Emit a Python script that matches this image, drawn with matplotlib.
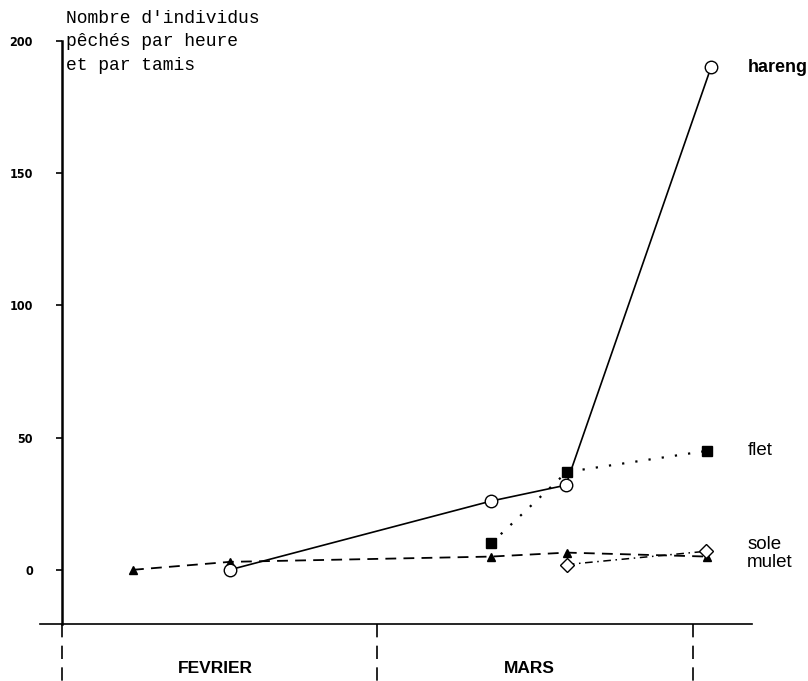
import matplotlib
matplotlib.use("Agg")
import matplotlib.pyplot as plt

# x positions in months since 1 February (0 = start of FEVRIER, 1 = start of MARS)
mulet_x = [0.225, 0.532, 1.360, 1.600, 2.045]
mulet_y = [0, 3, 5, 6.5, 5]

hareng_x = [0.532, 1.360, 1.597, 2.057]
hareng_y = [0, 26, 32, 190]

flet_x = [1.360, 1.600, 2.045]
flet_y = [10, 37, 45]

sole_x = [1.600, 2.041]
sole_y = [2, 7]

month_bounds = [0, 1, 2]
month_names = ["FEVRIER", "MARS"]
month_centres = [0.485, 1.48]

yticks = [0, 50, 100, 150, 200]

W, H = 808, 681
fig = plt.figure(figsize=(W / 100, H / 100), dpi=100)
ax = fig.add_axes([40 / W, (H - 624) / H, 712 / W, 583 / H])

ymin, ymax = -20.5, 200
ax.set_xlim(-0.0697, 2.187)
ax.set_ylim(ymin, ymax)

for s in ["top", "right"]:
    ax.spines[s].set_visible(False)
ax.spines["left"].set_position(("data", 0))
ax.spines["left"].set_linewidth(1.8)
ax.spines["bottom"].set_linewidth(1.2)
ax.set_xticks([])
ax.set_yticks(yticks)
ax.tick_params(axis="y", direction="out", length=4, width=1.2, pad=17)
for lab in ax.get_yticklabels():
    lab.set_fontfamily("DejaVu Sans")
    lab.set_fontstretch("condensed")
    lab.set_fontweight("bold")
    lab.set_fontsize(9)

ax.plot(mulet_x, mulet_y, color="black", linestyle=(0, (6, 4)), lw=1.3,
        marker="^", markersize=6, markerfacecolor="black", zorder=3)
ax.plot(sole_x, sole_y, color="black", linestyle=(0, (5, 3, 1, 3)), lw=1.1,
        marker="D", markersize=7, markerfacecolor="white", zorder=3)
ax.plot(flet_x, flet_y, color="black", linestyle=(0, (1, 5)), lw=1.6,
        marker="s", markersize=7, markerfacecolor="black", zorder=4)
ax.plot(hareng_x, hareng_y, color="black", linestyle="-", lw=1.2,
        marker="o", markersize=9, markerfacecolor="white", zorder=5)

# month separators below the axis
for b in month_bounds:
    ax.plot([b, b], [ymin, ymin - 21.6], color="black", lw=1.2,
            linestyle=(0, (8, 5)), clip_on=False)
for c, name in zip(month_centres, month_names):
    ax.text(c, ymin - 17, name, ha="center", va="center", fontsize=12.5,
            fontweight="bold", family="Liberation Sans", clip_on=False)

# series labels
lx = 2.172
ax.text(lx, hareng_y[-1], "hareng", ha="left", va="center", fontsize=13,
        fontweight="bold", family="Liberation Sans", clip_on=False)
ax.text(lx, flet_y[-1], "flet", ha="left", va="center", fontsize=13.5,
        family="Liberation Sans", clip_on=False)
ax.text(lx, 9.5, "sole", ha="left", va="center", fontsize=13.5,
        family="Liberation Sans", clip_on=False)
ax.text(lx, 2.7, "mulet", ha="left", va="center", fontsize=13.5,
        family="Liberation Sans", clip_on=False)

fig.text(66 / W, 1 - 10 / H, "Nombre d'individus\npêchés par heure\net par tamis",
         ha="left", va="top", fontsize=13, family="Liberation Mono",
         linespacing=1.5)

fig.savefig("out.png", dpi=100)
